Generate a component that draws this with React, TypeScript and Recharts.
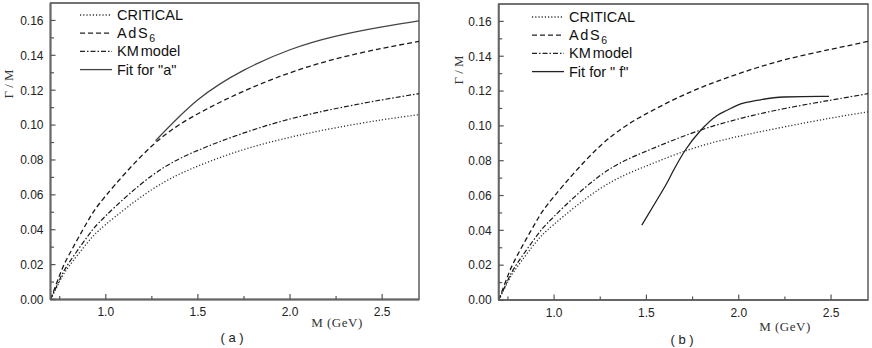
import React from 'react';
import { LineChart, Line, XAxis, YAxis, ReferenceArea, Legend } from 'recharts';

// ---------- data ----------
const massA = [0.7, 0.75, 0.8, 0.9, 1.0, 1.25, 1.5, 1.75, 2.0, 2.25, 2.5, 2.7];
const criticalA = [0, 0.0105, 0.019, 0.0325, 0.043, 0.063, 0.0765, 0.086, 0.093, 0.0985, 0.103, 0.106];
const adsA = [0, 0.014, 0.0255, 0.0445, 0.0595, 0.088, 0.1065, 0.1195, 0.130, 0.138, 0.144, 0.148];
const kmA = [0, 0.0115, 0.021, 0.036, 0.048, 0.071, 0.0855, 0.0955, 0.1035, 0.1095, 0.1145, 0.118];
const fitAMass = [1.27, 1.5, 1.75, 2.0, 2.25, 2.5, 2.7];
const fitAValue = [0.091, 0.1145, 0.1315, 0.1432, 0.151, 0.1563, 0.1598];

const massB = [0.7, 0.75, 0.8, 0.9, 1.0, 1.25, 1.5, 1.75, 2.0, 2.25, 2.5, 2.7];
const criticalB = [0, 0.0105, 0.019, 0.033, 0.0435, 0.064, 0.077, 0.087, 0.094, 0.0995, 0.1045, 0.108];
const adsB = [0, 0.014, 0.0255, 0.0445, 0.0595, 0.0885, 0.107, 0.120, 0.130, 0.138, 0.144, 0.1485];
const kmB = [0, 0.0115, 0.021, 0.036, 0.048, 0.0715, 0.0855, 0.096, 0.104, 0.110, 0.1148, 0.1185];
const fitBMass = [1.475, 1.556, 1.611, 1.647, 1.71, 1.792, 1.883, 1.937, 1.991, 2.118, 2.245, 2.444, 2.489];
const fitBValue = [0.043, 0.0573, 0.0672, 0.0745, 0.086, 0.0972, 0.106, 0.109, 0.1118, 0.115, 0.1166, 0.117, 0.117];

const xTicks = [0.75, 1.0, 1.25, 1.5, 1.75, 2.0, 2.25, 2.5];
const xLabelTicks = [1.0, 1.5, 2.0, 2.5];
const yTicks = [0, 0.01, 0.02, 0.03, 0.04, 0.05, 0.06, 0.07, 0.08, 0.09, 0.1, 0.11, 0.12, 0.13, 0.14, 0.15, 0.16];
const yLabelTicks = [0, 0.02, 0.04, 0.06, 0.08, 0.1, 0.12, 0.14, 0.16];

const seriesNames = ['CRITICAL', 'AdS6', 'KM model'];
const fitLabels = ['Fit for "a"', 'Fit for " f"'];
const panelLabels = ['( a )', '( b )'];

const toPoints = (ms: number[], vs: number[]) => ms.map((m, i) => ({ m, v: vs[i] }));

// ---------- styles ----------
const SANS = '"Liberation Sans", Arial, sans-serif';
const SERIF = '"Liberation Serif", "Times New Roman", serif';
const DASH = { critical: '1.2 2', ads: '5 3', km: '5 2 1.5 2', fit: undefined as string | undefined };

const W = 436;
const H = 348;
const YAXIS_W = 40;
const XAXIS_H = 30;

const near = (a: number, list: number[]) => list.some((b) => Math.abs(a - b) < 1e-6);

type Pt = { m: number; v: number };
type PanelProps = {
  left: number;
  plotLeft: number;
  plotRight: number;
  plotTop: number;
  plotBottom: number;
  critical: Pt[];
  ads: Pt[];
  km: Pt[];
  fit: Pt[];
  fitLabel: string;
  fitColor: string;
  fitCurve: 'natural' | 'monotone';
  legendLeft: number;
  legendTop: number;
};

const LegendBox = ({ fitLabel, fitColor }: { fitLabel: string; fitColor: string }) => {
  const rows = [
    { name: seriesNames[0], dash: DASH.critical, color: '#333' },
    { name: seriesNames[1], dash: DASH.ads, color: '#222' },
    { name: seriesNames[2], dash: DASH.km, color: '#222' },
    { name: fitLabel, dash: DASH.fit, color: fitColor },
  ];
  return (
    <svg width={160} height={78} style={{ display: 'block' }}>
      {rows.map((r, i) => {
        const cy = 10 + i * 18.2;
        return (
          <g key={i}>
            <line x1={4} x2={36} y1={cy} y2={cy} stroke={r.color} strokeWidth={1.3} strokeDasharray={r.dash} />
            {r.name === 'AdS6' ? (
              <text x={41} y={cy + 5} fontFamily={SANS} fontSize={14.5} fill="#111" letterSpacing={1.6}>
                AdS
                <tspan fontSize={10.5} dy={4} letterSpacing={0}>6</tspan>
              </text>
            ) : r.name === 'KM model' ? (
              <text x={41} y={cy + 5} fontFamily={SANS} fontSize={14.5} fill="#111" wordSpacing={-2}>
                KM model
              </text>
            ) : (
              <text x={41} y={cy + 5} fontFamily={SANS} fontSize={14.5} fill="#111">
                {r.name}
              </text>
            )}
          </g>
        );
      })}
    </svg>
  );
};

const Panel = (p: PanelProps) => {
  const pl = p.plotLeft - p.left;
  const pr = p.plotRight - p.left;
  const margin = {
    top: p.plotTop,
    right: W - pr,
    bottom: H - p.plotBottom - XAXIS_H,
    left: pl - YAXIS_W,
  };
  const pb = p.plotBottom;

  const renderYTick = (props: any) => {
    const { y, payload } = props;
    const val = payload.value as number;
    const major = near(val, yLabelTicks);
    return (
      <g>
        <line x1={pl} x2={pl + (major ? 5 : 3.5)} y1={y} y2={y} stroke="#555" strokeWidth={1.2} />
        {major && (
          <text x={pl - 7} y={y + 4.3} textAnchor="end" fontFamily={SANS} fontSize={12} fill="#222">
            {val.toFixed(2)}
          </text>
        )}
      </g>
    );
  };
  const renderXTick = (props: any) => {
    const { x, payload } = props;
    const val = payload.value as number;
    const major = near(val, xLabelTicks);
    return (
      <g>
        <line x1={x} x2={x} y1={pb} y2={pb - (major ? 5.5 : 3.5)} stroke="#555" strokeWidth={1.2} />
        {major && (
          <text x={x} y={pb + 16.5} textAnchor="middle" fontFamily={SANS} fontSize={12} fill="#222">
            {val.toFixed(1)}
          </text>
        )}
      </g>
    );
  };

  return (
    <div style={{ position: 'absolute', left: p.left, top: 0, width: W, height: H }}>
      <LineChart width={W} height={H} margin={margin}>
        <XAxis
          type="number"
          dataKey="m"
          domain={[0.7, 2.7]}
          ticks={xTicks}
          interval={0}
          allowDataOverflow
          height={XAXIS_H}
          tickLine={false}
          axisLine={{ stroke: '#666', strokeWidth: 2 }}
          tick={renderXTick}
        />
        <YAxis
          type="number"
          dataKey="v"
          domain={[0, 0.17]}
          ticks={yTicks}
          interval={0}
          allowDataOverflow
          width={YAXIS_W}
          tickLine={false}
          axisLine={{ stroke: '#666', strokeWidth: 2 }}
          tick={renderYTick}
        />
        <ReferenceArea x1={0.7} x2={2.7} y1={0} y2={0.17} fill="none" stroke="#444" strokeWidth={1.3} />
        <Line data={p.critical} dataKey="v" name={seriesNames[0]} type="natural" stroke="#333" strokeWidth={1.3} strokeDasharray={DASH.critical} dot={false} isAnimationActive={false} />
        <Line data={p.ads} dataKey="v" name={seriesNames[1]} type="natural" stroke="#1a1a1a" strokeWidth={1.3} strokeDasharray={DASH.ads} dot={false} isAnimationActive={false} />
        <Line data={p.km} dataKey="v" name={seriesNames[2]} type="natural" stroke="#1a1a1a" strokeWidth={1.2} strokeDasharray={DASH.km} dot={false} isAnimationActive={false} />
        <Line data={p.fit} dataKey="v" name={p.fitLabel} type={p.fitCurve} stroke={p.fitColor} strokeWidth={1.3} dot={false} isAnimationActive={false} />
        <Legend
          layout="horizontal"
          align="center"
          verticalAlign="middle"
          wrapperStyle={{ left: p.legendLeft, top: p.legendTop, width: 160, height: 78 }}
          content={() => <LegendBox fitLabel={p.fitLabel} fitColor={p.fitColor} />}
        />
      </LineChart>
    </div>
  );
};

export default function App() {
  return (
    <div style={{ position: 'absolute', left: 0, top: 0, width: 872, height: 348, background: '#fff', overflow: 'hidden' }}>
      <Panel
        left={0}
        plotLeft={50.5}
        plotRight={419}
        plotTop={3}
        plotBottom={299.5}
        critical={toPoints(massA, criticalA)}
        ads={toPoints(massA, adsA)}
        km={toPoints(massA, kmA)}
        fit={toPoints(fitAMass, fitAValue)}
        fitLabel={fitLabels[0]}
        fitColor="#444"
        fitCurve="natural"
        legendLeft={76}
        legendTop={5}
      />
      <Panel
        left={436}
        plotLeft={498.7}
        plotRight={868}
        plotTop={4}
        plotBottom={300}
        critical={toPoints(massB, criticalB)}
        ads={toPoints(massB, adsB)}
        km={toPoints(massB, kmB)}
        fit={toPoints(fitBMass, fitBValue)}
        fitLabel={fitLabels[1]}
        fitColor="#222"
        fitCurve="monotone"
        legendLeft={92}
        legendTop={7}
      />
      <svg width={872} height={348} style={{ position: 'absolute', left: 0, top: 0, pointerEvents: 'none' }}>
        <text transform="translate(13,84) rotate(-90)" textAnchor="middle" fontFamily={SERIF} fontSize={13} fill="#333">
          Γ / M
        </text>
        <text transform="translate(463,70) rotate(-90)" textAnchor="middle" fontFamily={SERIF} fontSize={13} fill="#333">
          Γ / M
        </text>
        <text x={337} y={327} textAnchor="middle" fontFamily={SERIF} fontSize={13} fill="#333" letterSpacing={0.5}>
          M (GeV)
        </text>
        <text x={785} y={331} textAnchor="middle" fontFamily={SERIF} fontSize={13} fill="#333" letterSpacing={0.5}>
          M (GeV)
        </text>
        <text x={232} y={342} textAnchor="middle" fontFamily={SANS} fontSize={13} fill="#222">
          {panelLabels[0]}
        </text>
        <text x={682} y={344} textAnchor="middle" fontFamily={SANS} fontSize={13} fill="#222">
          {panelLabels[1]}
        </text>
      </svg>
    </div>
  );
}
